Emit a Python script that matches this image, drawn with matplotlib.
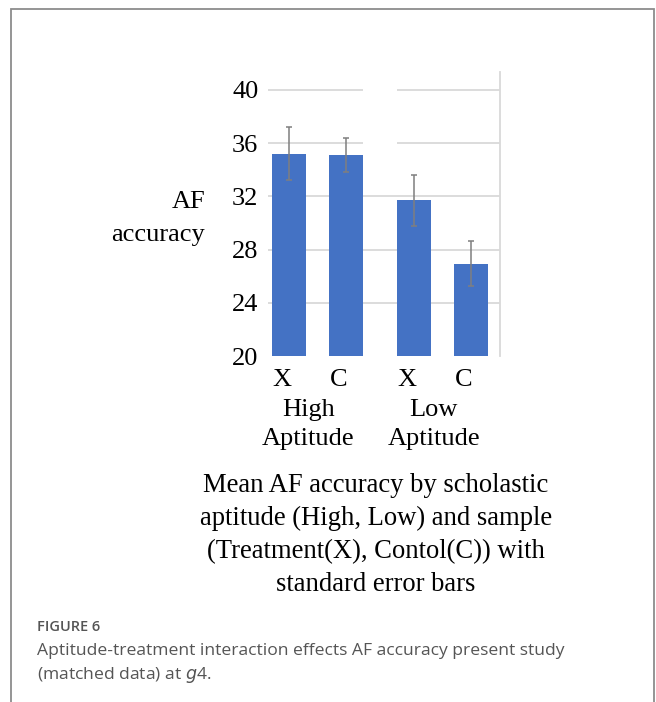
import matplotlib.pyplot as plt
from matplotlib.patches import Rectangle
from matplotlib.transforms import ScaledTranslation
import numpy as np

# mean AF accuracy and standard errors, (High X, High C, Low X, Low C)
samples = ['X', 'C', 'X', 'C']
groups = ['High\nAptitude', 'Low\nAptitude']
means = [35.2, 35.1, 31.7, 26.95]
sem = [2.0, 1.3, 1.9, 1.7]
yticks = [20, 24, 28, 32, 36, 40]

W, H = 656, 702
fig = plt.figure(figsize=(W / 100, H / 100), dpi=100)
serif = 'Liberation Serif'

# outer panel border (open at the bottom)
fig.patches.append(Rectangle((11 / W, -0.05), 643 / W, 1.05 - 9 / H, transform=fig.transFigure,
                             fill=False, edgecolor='#8c8c8c', lw=1.3))

ax = fig.add_axes([268 / W, 1 - 356 / H, 232 / W, 284 / H])
pos = np.array([0, 1, 2.2, 3.2])
blue = '#4472c4'
ax.bar(pos, means, width=0.6, color=blue, zorder=3)
ax.errorbar(pos, means, yerr=sem, fmt='none', ecolor='#7f7f7f', elinewidth=1.1,
            capsize=2.5, capthick=1.1, zorder=4)
ax.set_xlim(-0.37, 3.71)
ax.set_ylim(20, 41.35)
ax.set_yticks(yticks)
ax.set_yticklabels([str(t) for t in yticks], fontsize=19, family=serif)
ax.set_xticks(pos)
ax.set_xticklabels(samples, fontsize=19, family=serif)
ax.tick_params(axis='y', length=0, pad=7)
ax.tick_params(axis='x', length=0, pad=9.5)
for lbl in ax.get_xticklabels():
    lbl.set_transform(lbl.get_transform() + ScaledTranslation(-0.07, 0, fig.dpi_scale_trans))
for t in yticks[1:]:
    ax.axhline(t, color='#d9d9d9', lw=1.3, zorder=1)
# gap in the upper gridlines between the two groups
ax.add_patch(Rectangle((pos[1] + 0.3, 34), pos[2] - pos[1] - 0.6, 8, color='white', zorder=2, lw=0))
for s in ['top', 'left', 'bottom']:
    ax.spines[s].set_visible(False)
ax.spines['right'].set_color('#d9d9d9')
ax.spines['right'].set_linewidth(1.3)

# group labels under the sample letters
for g, x in zip(groups, [(pos[0] + pos[1]) / 2, (pos[2] + pos[3]) / 2]):
    ax.text(x, 0, g, transform=ax.get_xaxis_transform() + ScaledTranslation(-0.09, -0.43, fig.dpi_scale_trans),
            ha='center', va='top', fontsize=19, family=serif, linespacing=1.4)

fig.text(205 / W, 1 - 202 / H, 'AF', ha='right', va='center', fontsize=19, family=serif)
fig.text(205 / W, 1 - 235 / H, 'accuracy', ha='right', va='center', fontsize=19, family=serif)

fig.text(376 / W, 1 - 535 / H,
         'Mean AF accuracy by scholastic\naptitude (High, Low) and sample\n'
         '(Treatment(X), Contol(C)) with\nstandard error bars',
         ha='center', va='center', fontsize=19.2, family=serif, linespacing=1.43)

# figure caption
fig.text(37 / W, 1 - 627 / H, 'FIGURE 6', ha='left', va='center', fontsize=10.5,
         family='Open Sans', weight='semibold', color='#555555')
fig.text(37 / W, 1 - 664 / H,
         'Aptitude-treatment interaction effects AF accuracy present study\n(matched data) at $g$4.',
         ha='left', va='center', fontsize=12.6, family='Open Sans', color='#555555', linespacing=1.45)

fig.savefig('out.png', dpi=100)
